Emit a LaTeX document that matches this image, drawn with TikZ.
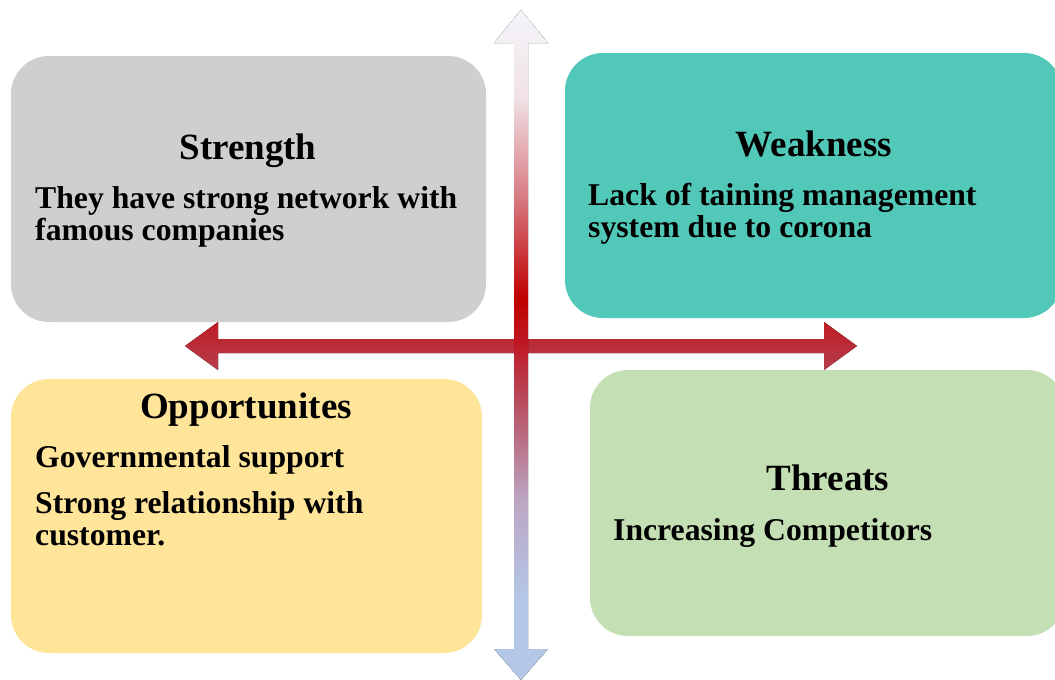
\documentclass[tikz,border=0pt]{standalone}
\usepackage{fontspec}
\setmainfont{Liberation Serif}
\definecolor{strengthfill}{HTML}{D0CECF}
\definecolor{weaknessfill}{HTML}{52C8B8}
\definecolor{oppfill}{HTML}{FFE599}
\definecolor{threatfill}{HTML}{C5DFB4}
\definecolor{axisredtop}{HTML}{C01C24}
\definecolor{axisredbot}{HTML}{B43E4E}
% colour stops of the vertical axis, bottom to top
\definecolor{c0}{HTML}{B4C7E7}
\definecolor{c1}{HTML}{BBA6C2}
\definecolor{c2}{HTML}{B84A5C}
\definecolor{c3}{HTML}{BF1A25}
\definecolor{c4}{HTML}{C00000}
\definecolor{c5}{HTML}{D77B82}
\definecolor{c6}{HTML}{F1E2E6}
\definecolor{c7}{HTML}{F4F5FA}
% vertical axis: pale at the top, red at the crossing, light blue at the bottom
\pgfdeclareverticalshading{vaxisshade}{100bp}{%
  color(0bp)=(c0);
  color(25bp)=(c0);
  color(31bp)=(c0);
  color(38.5bp)=(c1);
  color(46bp)=(c2);
  color(50bp)=(c3);
  color(53.5bp)=(c4);
  color(61bp)=(c5);
  color(68.5bp)=(c6);
  color(75bp)=(c7);
  color(100bp)=(c7)}
\begin{document}
\begin{tikzpicture}[x=1pt,y=-1pt,
  box/.style={rounded corners=38pt, inner sep=0pt, draw=none},
  heading/.style={anchor=base, inner sep=0pt, font=\fontsize{37}{37}\selectfont\bfseries},
  bodyline/.style={anchor=base west, inner sep=0pt, font=\fontsize{31.7}{32}\selectfont\bfseries}]
\useasboundingbox (0,0) rectangle (1055,680);
\clip (0,0) rectangle (1055,680);
\fill[white] (0,0) rectangle (1055,680);

% the four quadrant boxes
\node[box, fill=strengthfill, minimum width=475pt, minimum height=266pt] (S) at (248.5,189) {};
\node[box, fill=weaknessfill, minimum width=497pt, minimum height=265pt] (W) at (813.5,185.5) {};
\node[box, fill=oppfill, minimum width=471pt, minimum height=274pt] (O) at (246.5,516) {};
\node[box, fill=threatfill, minimum width=475pt, minimum height=266pt] (T) at (827.5,503) {};

% horizontal double arrow
\fill[top color=axisredtop, bottom color=axisredbot]
  (218,339) -- (218,322) -- (185,346) -- (218,370) -- (218,353)
  -- (824,353) -- (824,370) -- (857,346) -- (824,322) -- (824,339) -- cycle;

% vertical double arrow
\fill[shading=vaxisshade]
  (514,43) -- (494,43) -- (521,10) -- (548,43) -- (528,43)
  -- (528,649) -- (548,649) -- (521,680) -- (494,649) -- (514,649) -- cycle;

% Strength
\node[heading] (Sh) at (248,159) {Strength};
\node[bodyline] (S1) at (35,208) {They have strong network with};
\node[bodyline] (S2) at (35,240) {famous companies};

% Weakness
\node[heading] (Wh) at (814,156) {Weakness};
\node[bodyline] (W1) at (588,205) {Lack of taining management};
\node[bodyline] (W2) at (588,237) {system due to corona};

% Opportunities
\node[heading] (Oh) at (246,418) {Opportunites};
\node[bodyline] (O1) at (35,467) {Governmental support};
\node[bodyline] (O2) at (35,513) {Strong relationship with};
\node[bodyline] (O3) at (35,545) {customer.};

% Threats
\node[heading] (Th) at (828,490) {Threats};
\node[bodyline] (T1) at (613,540) {Increasing Competitors};
\end{tikzpicture}
\end{document}
